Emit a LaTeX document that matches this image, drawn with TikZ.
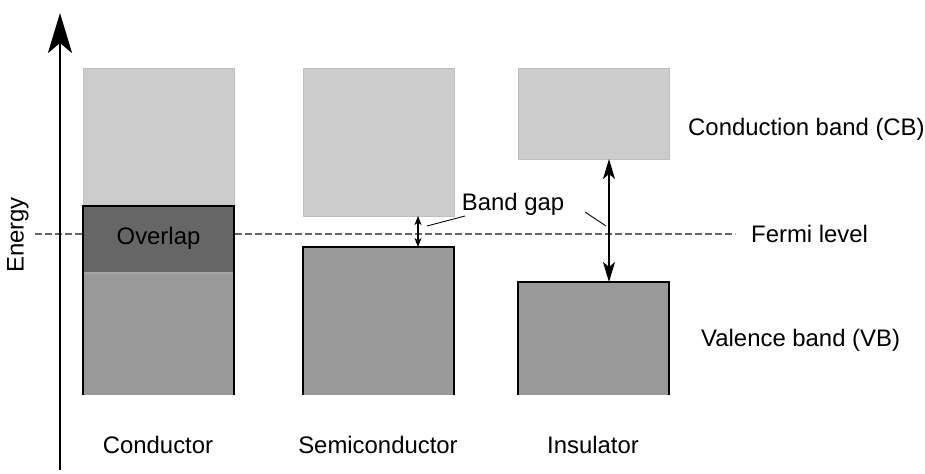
\documentclass[tikz,border=0pt]{standalone}
\usepackage{fontspec}
\setmainfont{Liberation Sans}
\usetikzlibrary{arrows.meta}
\definecolor{cbgray}{HTML}{CCCCCC}
\definecolor{vbgray}{HTML}{999999}
\definecolor{ovgray}{HTML}{666666}
\begin{document}
\begin{tikzpicture}[font=\fontsize{13.6}{16}\selectfont,
	band/.style={fill=cbgray, draw=black!25, line width=0.5pt},
	edge/.style={line width=1.1pt, line join=miter},
	gaparrow/.style={line width=0.9pt, {Stealth[length=4mm,width=2.4mm,inset=1mm]}-{Stealth[length=4mm,width=2.4mm,inset=1mm]}},
	smallgap/.style={line width=0.7pt, {Stealth[length=1.8mm,width=1.4mm,inset=0.5mm]}-{Stealth[length=1.8mm,width=1.4mm,inset=0.5mm]}}]
	\useasboundingbox (0,0) rectangle (18.5,9.46);
	% conductor
	\fill[band] (1.66,5.34) rectangle (4.68,8.1);
	\fill[vbgray] (1.66,1.56) rectangle (4.68,4.0);
	\fill[ovgray] (1.66,4.0) rectangle (4.68,5.34);
	\draw[black!35, line width=0.6pt] (1.66,4.0) -- (4.68,4.0);
	\draw[edge] (1.66,1.56) -- (1.66,5.34) -- (4.68,5.34) -- (4.68,1.56);
	% semiconductor
	\filldraw[band] (6.06,5.14) rectangle (9.08,8.1);
	\fill[vbgray] (6.06,1.56) rectangle (9.08,4.52);
	\draw[edge] (6.06,1.56) -- (6.06,4.52) -- (9.08,4.52) -- (9.08,1.56);
	% insulator
	\filldraw[band] (10.36,6.28) rectangle (13.38,8.1);
	\fill[vbgray] (10.36,1.56) rectangle (13.38,3.82);
	\draw[edge] (10.36,1.56) -- (10.36,3.82) -- (13.38,3.82) -- (13.38,1.56);
	% fermi level
	\draw[ovgray, line width=0.6pt, dash pattern=on 0.14cm off 0.06cm] (0.7,4.78) -- (14.7,4.78);
	\node[anchor=west] (fermi) at (14.9,4.78) {Fermi level};
	\node (overlap) at (3.17,4.7) {Overlap};
	% energy axis
	\draw[line width=1.7pt, -{Stealth[length=8mm,width=4.8mm,inset=2mm]}] (1.2,0.06) -- (1.2,9.2);
	\node[rotate=90] (energy) at (0.36,4.76) {Energy};
	% band gaps
	\coordinate (scb) at (8.36,5.14);
	\coordinate (svb) at (8.36,4.52);
	\coordinate (icb) at (12.18,6.28);
	\coordinate (ivb) at (12.18,3.82);
	\draw[smallgap] (scb) -- (svb);
	\draw[gaparrow] (icb) -- (ivb);
	\node (gap) at (10.26,5.38) {Band gap};
	\draw[line width=0.5pt] (9.3,5.14) -- (8.54,4.94);
	\draw[line width=0.5pt] (11.7,5.22) -- (12.12,4.94);
	% labels
	\node[anchor=west] (cb) at (13.64,6.88) {Conduction band (CB)};
	\node[anchor=west] (vb) at (13.9,2.66) {Valence band (VB)};
	\node (cond) at (3.16,0.56) {Conductor};
	\node (semi) at (7.56,0.56) {Semiconductor};
	\node (ins) at (11.86,0.56) {Insulator};
\end{tikzpicture}
\end{document}
